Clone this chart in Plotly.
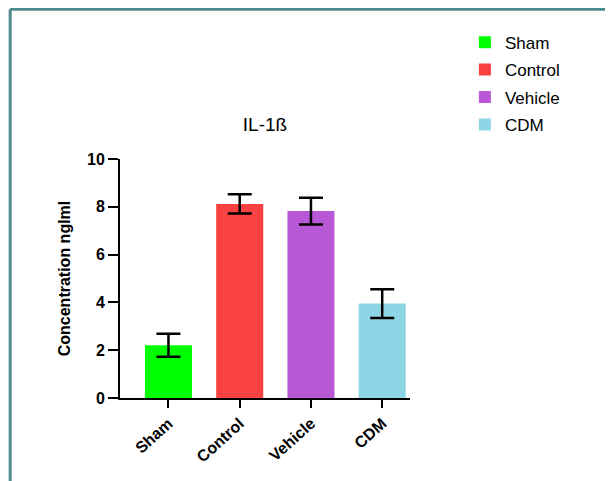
import plotly.graph_objects as go

categories = ["Sham", "Control", "Vehicle", "CDM"]
means = [2.21, 8.12, 7.82, 3.95]
errors = [0.48, 0.40, 0.56, 0.60]
colors = ["#00ff00", "#f94141", "#b858d6", "#8ed6e6"]
y_ticks = [0, 2, 4, 6, 8, 10]

W, H = 613, 481
OFF = 8  # browser body margin
# plot area in page pixels
L, R, T, B = 119.5 - OFF, 410.0 - OFF, 159.0 - OFF, 398.3 - OFF

def px_x(p):
    return (p - OFF - L) / (R - L)

def px_y(p):
    return (B - (p - OFF)) / (B - T)

fig = go.Figure()
for i, (c, m, e, col) in enumerate(zip(categories, means, errors, colors)):
    fig.add_trace(go.Bar(
        x=[i], y=[m], name=c, legendgroup=c,
        marker=dict(color=col, line=dict(width=0)),
        width=0.66,
        error_y=dict(type="data", array=[e], visible=True, color="black", thickness=2.5, width=12),
    ))

font_fam = "Arial, Liberation Sans, sans-serif"
fig.update_layout(
    width=W, height=H,
    margin=dict(l=L, r=W - R, t=T, b=H - B, pad=0),
    paper_bgcolor="white", plot_bgcolor="white",
    showlegend=True,
    legend=dict(x=px_x(465), y=px_y(24.5), xanchor="left", yanchor="top",
                font=dict(family=font_fam, size=17, color="black"),
                tracegroupgap=2.3, itemsizing="constant", bgcolor="rgba(0,0,0,0)"),
    title=dict(text="IL-1ß", x=0.5, xref="paper", xanchor="center", y=1 - (124 - OFF) / H, yanchor="middle",
               font=dict(family=font_fam, size=19, color="black")),
    xaxis=dict(
        range=[-0.68, 3.39], tickmode="array", tickvals=list(range(len(categories))), ticktext=categories,
        tickangle=-42, ticks="outside", ticklen=8, tickwidth=2, tickcolor="black",
        showline=True, linecolor="black", linewidth=2, showgrid=False, zeroline=False,
        tickfont=dict(family=font_fam, size=16, color="black", weight="bold"),
    ),
    yaxis=dict(
        range=[0, 10], tickmode="array", tickvals=y_ticks, ticktext=[str(v) for v in y_ticks],
        ticks="outside", ticklen=10, tickwidth=2, tickcolor="black",
        showline=True, linecolor="black", linewidth=2, showgrid=False, zeroline=False,
        tickfont=dict(family=font_fam, size=16, color="black", weight="bold"),
        title=dict(text="Concentration nglml", standoff=12,
                   font=dict(family=font_fam, size=16, color="black", weight="bold")),
    ),
    bargap=0.34,
)

frame_col = "#4e8b8c"
fig.add_shape(type="line", xref="paper", yref="paper", x0=px_x(9.5), x1=px_x(660), y0=px_y(9), y1=px_y(9),
              line=dict(color=frame_col, width=3))
fig.add_shape(type="line", xref="paper", yref="paper", x0=px_x(9.5), x1=px_x(9.5), y0=px_y(9), y1=px_y(540),
              line=dict(color=frame_col, width=3))

fig.write_html("out.html")
